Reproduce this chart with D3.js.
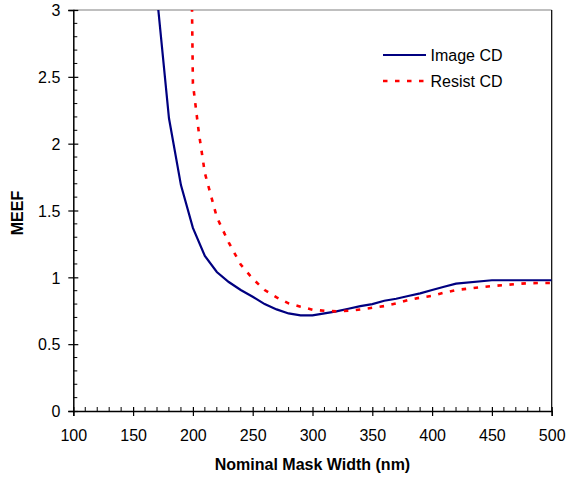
<!DOCTYPE html>
<html><head><meta charset="utf-8">
<script src="https://cdn.jsdelivr.net/npm/d3@7"></script>
<style>
html,body{margin:0;padding:0;background:#fff;}
svg{display:block;font-family:Arial,"Liberation Sans",sans-serif;}
</style></head>
<body>
<script>
const imageX = [170,180,190,200,210,220,230,240,250,260,270,280,290,300,310,320,330,340,350,360,370,380,390,400,410,420,450,500];
const imageY = [3.1,2.19,1.69,1.37,1.16,1.04,0.965,0.905,0.855,0.80,0.76,0.73,0.715,0.715,0.73,0.745,0.765,0.785,0.80,0.825,0.84,0.86,0.88,0.905,0.93,0.953,0.978,0.978];
const resistX = [199,200,205,210,220,230,240,250,260,270,280,290,300,310,320,330,340,350,360,370,380,390,400,410,420,430,440,450,460,470,480,490,500];
const resistY = [3.2,2.45,2.08,1.78,1.45,1.26,1.095,0.99,0.905,0.85,0.805,0.78,0.758,0.75,0.745,0.75,0.76,0.772,0.785,0.805,0.83,0.848,0.862,0.885,0.905,0.915,0.925,0.935,0.942,0.95,0.956,0.958,0.958];
const seriesNames = ["Image CD","Resist CD"];
const xTicks = [100,150,200,250,300,350,400,450,500];
const yTicks = [0,0.5,1,1.5,2,2.5,3];

const W=568,H=479;
const L=73.3,R=551.7,T=10,B=411;
const svg=d3.select("body").append("svg").attr("width",W).attr("height",H);
const x=d3.scaleLinear().domain([100,500]).range([L,R]);
const y=d3.scaleLinear().domain([0,3]).range([B,T]);

svg.append("defs").append("clipPath").attr("id","clip")
  .append("rect").attr("x",L).attr("y",T).attr("width",R-L).attr("height",B-T);

// frame top (gray) and right (black)
svg.append("line").attr("x1",L).attr("x2",R).attr("y1",T).attr("y2",T).attr("stroke","#808080").attr("stroke-width",1.2);
svg.append("line").attr("x1",R).attr("x2",R).attr("y1",T).attr("y2",B).attr("stroke","#000").attr("stroke-width",1.2);

// minor ticks
const minorX=d3.range(110,500,10).filter(v=>v%50!==0);
svg.append("g").selectAll("line").data(minorX).join("line")
  .attr("x1",d=>x(d)).attr("x2",d=>x(d)).attr("y1",B).attr("y2",B-4).attr("stroke","#000").attr("stroke-width",1);
const minorY=d3.range(1,30).map(v=>v/10).filter(v=>Math.round(v*10)%5!==0);
svg.append("g").selectAll("line").data(minorY).join("line")
  .attr("x1",L).attr("x2",L+4).attr("y1",d=>y(d)).attr("y2",d=>y(d)).attr("stroke","#000").attr("stroke-width",1);

// axes
const xAxis=svg.append("g").attr("transform",`translate(0,${B})`)
  .call(d3.axisBottom(x).tickValues(xTicks).tickFormat(d3.format("d")).tickSize(5).tickPadding(14));
xAxis.selectAll(".tick line").attr("y1",-4).attr("stroke-width",1.2);
const yAxis=svg.append("g").attr("transform",`translate(${L},0)`)
  .call(d3.axisLeft(y).tickValues(yTicks).tickFormat(d=>String(d)).tickSize(5).tickPadding(8));
yAxis.selectAll(".tick line").attr("x1",5).attr("stroke-width",1.2);
[xAxis,yAxis].forEach(a=>{
  a.select(".domain").attr("stroke","#000").attr("stroke-width",1.5);
  a.selectAll("text").attr("font-size",16).attr("fill","#000").attr("font-family",'Arial,"Liberation Sans",sans-serif');
});
yAxis.selectAll("text").attr("dy","0.36em");

// lines
const g=svg.append("g").attr("clip-path","url(#clip)");
const line=d3.line().x(d=>x(d[0])).y(d=>y(d[1]));
g.append("path").datum(imageX.map((v,i)=>[v,imageY[i]])).attr("d",line)
  .attr("fill","none").attr("stroke","#000080").attr("stroke-width",2.2);
g.append("path").datum(resistX.map((v,i)=>[v,resistY[i]])).attr("d",line)
  .attr("fill","none").attr("stroke","#ff0000").attr("stroke-width",2.6).attr("stroke-dasharray","4.5,7.5");

// legend
const leg=svg.append("g");
leg.append("line").attr("x1",383).attr("x2",426).attr("y1",55).attr("y2",55).attr("stroke","#000080").attr("stroke-width",2.2);
leg.append("line").attr("x1",383).attr("x2",426).attr("y1",81).attr("y2",81).attr("stroke","#ff0000").attr("stroke-width",2.6).attr("stroke-dasharray","4.5,7.5");
leg.append("text").attr("x",430.5).attr("y",55).attr("dy","0.36em").attr("font-size",16).text(seriesNames[0]);
leg.append("text").attr("x",430.5).attr("y",81).attr("dy","0.36em").attr("font-size",16).text(seriesNames[1]);

// titles
svg.append("text").attr("x",(L+R)/2).attr("y",470).attr("text-anchor","middle")
  .attr("font-size",16).attr("font-weight","bold").text("Nominal Mask Width (nm)");
svg.append("text").attr("transform",`translate(23,213) rotate(-90)`).attr("text-anchor","middle")
  .attr("font-size",16).attr("font-weight","bold").text("MEEF");
</script>
</body></html>
